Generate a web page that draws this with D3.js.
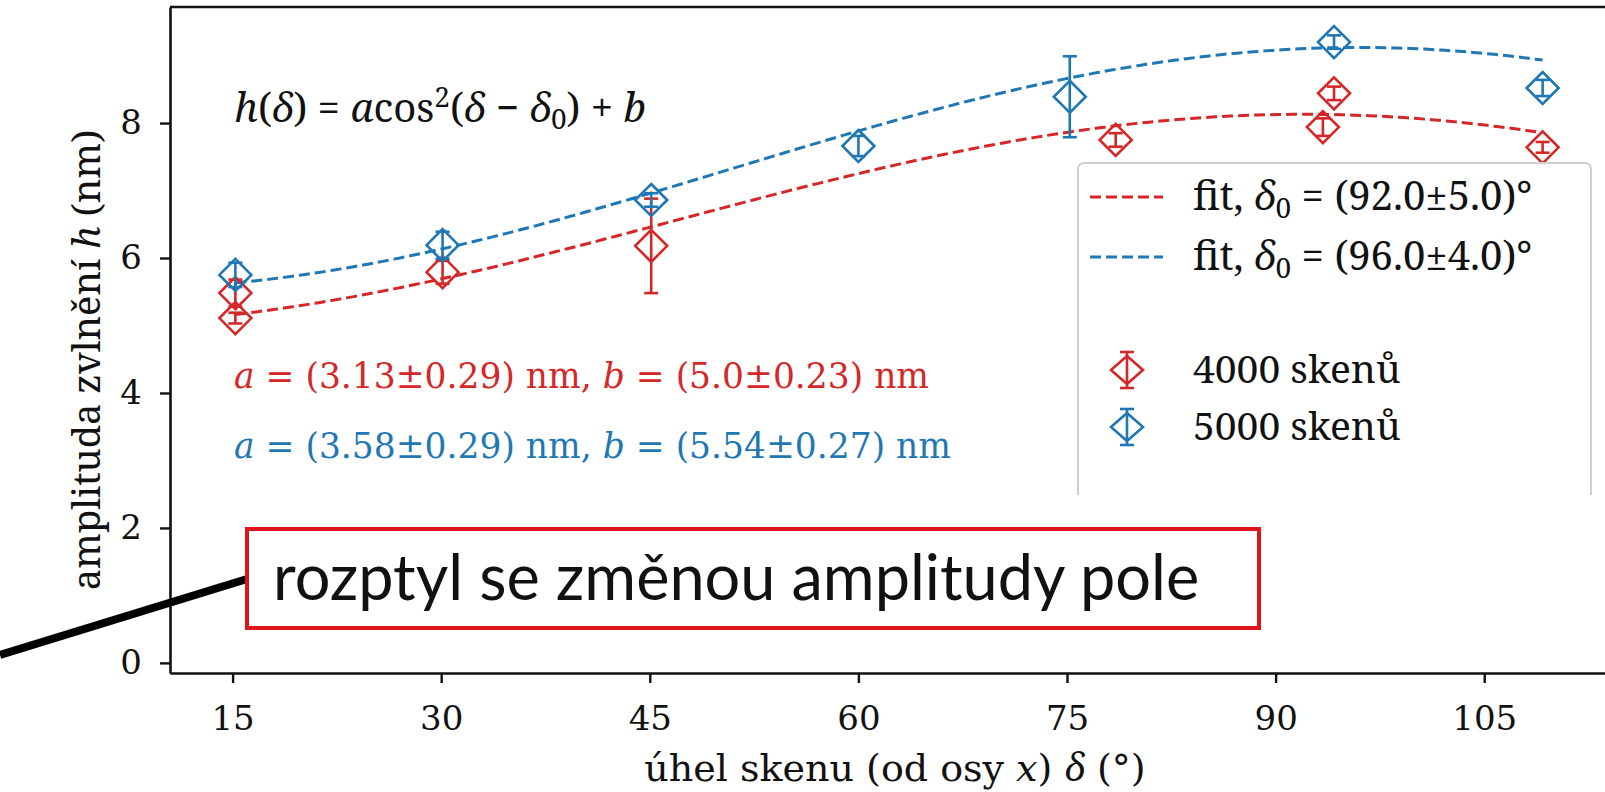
<!DOCTYPE html>
<html>
<head>
<meta charset="utf-8">
<script src="https://cdn.jsdelivr.net/npm/d3@7"></script>
<style>
  html, body { margin: 0; padding: 0; background: #fff; }
  svg { display: block; }
</style>
</head>
<body>
<svg id="chart" width="1605" height="792"></svg>
<script>
// Measured ripple amplitude vs. scan angle
const scans4000Angle = [15.2, 15.2, 30.1, 45.1, 78.5, 93.4, 94.2, 109.2];
const scans4000Value = [5.11, 5.48, 5.79, 6.18, 7.75, 7.94, 8.44, 7.64];
const scans4000Error = [0.08, 0.20, 0.17, 0.70, 0.10, 0.13, 0.10, 0.08];

const scans5000Angle = [15.2, 30.1, 45.1, 60.0, 75.2, 94.2, 109.2];
const scans5000Value = [5.75, 6.19, 6.86, 7.66, 8.39, 9.20, 8.52];
const scans5000Error = [0.18, 0.20, 0.10, 0.15, 0.60, 0.10, 0.12];

// Fitted parameters of h(δ) = a·cos²(δ − δ0) + b
const fit4000 = { a: 3.13, b: 5.0, d0: 92.0 };
const fit5000 = { a: 3.58, b: 5.54, d0: 96.0 };

const xTicks = [15, 30, 45, 60, 75, 90, 105];
const yTicks = [0, 2, 4, 6, 8];

const RED = "#d62728", BLUE = "#1f77b4";
const SERIF = '"DejaVu Serif"';
const SERIF_EXT = '"Noto Serif"';   // texts with ě, ů, δ, −

const svg = d3.select("#chart");
const x = d3.scaleLinear().domain([10.5, 113.9]).range([170, 1608]);
const y = d3.scaleLinear().domain([-0.15, 9.72]).range([673, 7]);

// text made of parts: {t, i (italic), s (font scale), dy, f (family)}
function richText(parent, parts, size, col, family) {
  const fam = family || SERIF;
  const t = parent.append("text").style("font-size", size + "px").attr("fill", col || "#111")
    .style("font-family", fam);
  parts.forEach(p => {
    const sp = t.append("tspan").text(p.t).style("font-family", p.f || fam);
    if (p.i) sp.style("font-style", "italic");
    if (p.s) sp.style("font-size", Math.round(size * p.s) + "px");
    if (p.dy) sp.attr("dy", p.dy);
  });
  return t;
}

// axes
const xAxis = svg.append("g").attr("transform", "translate(0,673)")
  .call(d3.axisBottom(x).tickValues(xTicks).tickSizeInner(10).tickSizeOuter(0).tickPadding(23));
const yAxis = svg.append("g").attr("transform", "translate(170,0)")
  .call(d3.axisLeft(y).tickValues(yTicks).tickSizeInner(10).tickSizeOuter(0).tickPadding(18));
[xAxis, yAxis].forEach(g => {
  g.select(".domain").attr("stroke", "#111").attr("stroke-width", 2.6);
  g.selectAll(".tick line").attr("stroke", "#111").attr("stroke-width", 2.4);
  g.selectAll(".tick text").style("font-family", SERIF).style("font-size", "34px").attr("fill", "#111");
});
// top and right spines
svg.append("line").attr("x1", 170).attr("x2", 1608).attr("y1", 7).attr("y2", 7)
  .attr("stroke", "#111").attr("stroke-width", 2.6);
svg.append("line").attr("x1", 1608).attr("x2", 1608).attr("y1", 7).attr("y2", 673)
  .attr("stroke", "#111").attr("stroke-width", 2.6);

// fit curves
function fitPoints(p, lo, hi) {
  const pts = [];
  for (let d = lo; d <= hi + 1e-9; d += 0.5) {
    const c = Math.cos((d - p.d0) * Math.PI / 180);
    pts.push([d, p.a * c * c + p.b]);
  }
  return pts;
}
const line = d3.line().x(d => x(d[0])).y(d => y(d[1]));
[[fit4000, RED, scans4000Angle], [fit5000, BLUE, scans5000Angle]].forEach(([p, col, ang]) => {
  svg.append("path").attr("d", line(fitPoints(p, d3.min(ang), d3.max(ang))))
    .attr("fill", "none").attr("stroke", col).attr("stroke-width", 3)
    .attr("stroke-dasharray", "11,5");
});

// error bars with open diamonds
function drawErrorbars(angles, values, errs, col) {
  const g = svg.append("g").attr("stroke", col).attr("fill", "none").attr("stroke-width", 2.6);
  angles.forEach((a, i) => {
    const cx = x(a), cy = y(values[i]);
    const y0 = y(values[i] - errs[i]), y1 = y(values[i] + errs[i]);
    g.append("line").attr("x1", cx).attr("x2", cx).attr("y1", y0).attr("y2", y1);
    g.append("line").attr("x1", cx - 7).attr("x2", cx + 7).attr("y1", y0).attr("y2", y0);
    g.append("line").attr("x1", cx - 7).attr("x2", cx + 7).attr("y1", y1).attr("y2", y1);
    const r = 16;
    g.append("path").attr("d", `M${cx},${cy - r}L${cx + r},${cy}L${cx},${cy + r}L${cx - r},${cy}Z`);
  });
}
drawErrorbars(scans4000Angle, scans4000Value, scans4000Error, RED);
drawErrorbars(scans5000Angle, scans5000Value, scans5000Error, BLUE);

// formula
richText(svg, [
  { t: "h", i: true }, { t: "(" }, { t: "δ", i: true }, { t: ") = " }, { t: "a", i: true }, { t: "cos" },
  { t: "2", s: 0.7, dy: -15 }, { t: "(", dy: 15 }, { t: "δ", i: true }, { t: " − " }, { t: "δ", i: true },
  { t: "0", s: 0.7, dy: 7 }, { t: ") + ", dy: -7 }, { t: "b", i: true }
], 40, "#111", SERIF_EXT).attr("x", 234).attr("y", 122);

// fitted parameter labels
function paramLabel(yPos, col, aTxt, bTxt) {
  richText(svg, [
    { t: "a", i: true }, { t: ` = (${aTxt}) nm, ` }, { t: "b", i: true }, { t: ` = (${bTxt}) nm` }
  ], 34.5, col).attr("x", 234).attr("y", yPos);
}
paramLabel(388, RED, `${fit4000.a.toFixed(2)}±0.29`, `${fit4000.b.toFixed(1)}±0.23`);
paramLabel(458, BLUE, `${fit5000.a.toFixed(2)}±0.29`, `${fit5000.b.toFixed(2)}±0.27`);

// legend
const lg = svg.append("g");
lg.append("rect").attr("x", 1078).attr("y", 163).attr("width", 513).attr("height", 380)
  .attr("rx", 6).attr("fill", "#fff").attr("fill-opacity", 0.85).attr("stroke", "#cfcfcf").attr("stroke-width", 2);
function legendFit(yPos, col, d0, err) {
  lg.append("line").attr("x1", 1090).attr("x2", 1163).attr("y1", yPos).attr("y2", yPos)
    .attr("stroke", col).attr("stroke-width", 3).attr("stroke-dasharray", "11,5");
  richText(lg, [
    { t: "fit, " }, { t: "δ", i: true }, { t: "0", s: 0.7, dy: 8 }, { t: ` = (${d0}±${err})°`, dy: -8 }
  ], 40, "#111", SERIF_EXT).attr("x", 1193).attr("y", yPos + 13);
}
legendFit(197, RED, fit4000.d0.toFixed(1), "5.0");
legendFit(257, BLUE, fit5000.d0.toFixed(1), "4.0");
function legendErr(yPos, col, label) {
  const cx = 1127;
  const g = lg.append("g").attr("stroke", col).attr("fill", "none").attr("stroke-width", 2.6);
  g.append("line").attr("x1", cx).attr("x2", cx).attr("y1", yPos - 18).attr("y2", yPos + 18);
  g.append("line").attr("x1", cx - 7).attr("x2", cx + 7).attr("y1", yPos - 18).attr("y2", yPos - 18);
  g.append("line").attr("x1", cx - 7).attr("x2", cx + 7).attr("y1", yPos + 18).attr("y2", yPos + 18);
  g.append("path").attr("d", `M${cx},${yPos - 14}L${cx + 16},${yPos}L${cx},${yPos + 14}L${cx - 16},${yPos}Z`);
  richText(lg, [{ t: label }], 39, "#111", SERIF_EXT).attr("x", 1193).attr("y", yPos + 13);
}
legendErr(370, RED, "4000 skenů");
legendErr(427, BLUE, "5000 skenů");

// axis titles
richText(svg, [
  { t: "úhel skenu (od osy " }, { t: "x", i: true }, { t: ") " }, { t: "δ", i: true, f: SERIF_EXT }, { t: " (°)" }
], 38).attr("x", 895).attr("y", 781).attr("text-anchor", "middle");

richText(svg, [
  { t: "amplituda zvlnění " }, { t: "h", i: true }, { t: " (nm)" }
], 38, "#111", SERIF_EXT).attr("transform", "translate(100,360) rotate(-90)").attr("text-anchor", "middle");

// callout: white backdrop, pointer line and framed note
svg.append("rect").attr("x", 240).attr("y", 495).attr("width", 1365).attr("height", 163).attr("fill", "#fff");
svg.append("line").attr("x1", 0).attr("y1", 655).attr("x2", 247).attr("y2", 579)
  .attr("stroke", "#000").attr("stroke-width", 8);
svg.append("rect").attr("x", 247).attr("y", 529).attr("width", 1012).attr("height", 99)
  .attr("fill", "#fff").attr("stroke", "#e0141b").attr("stroke-width", 4);
svg.append("text").attr("x", 273).attr("y", 600)
  .style("font-family", "Lato, sans-serif").style("font-size", "63px").attr("fill", "#111")
  .text("rozptyl se změnou amplitudy pole");
</script>
</body>
</html>
